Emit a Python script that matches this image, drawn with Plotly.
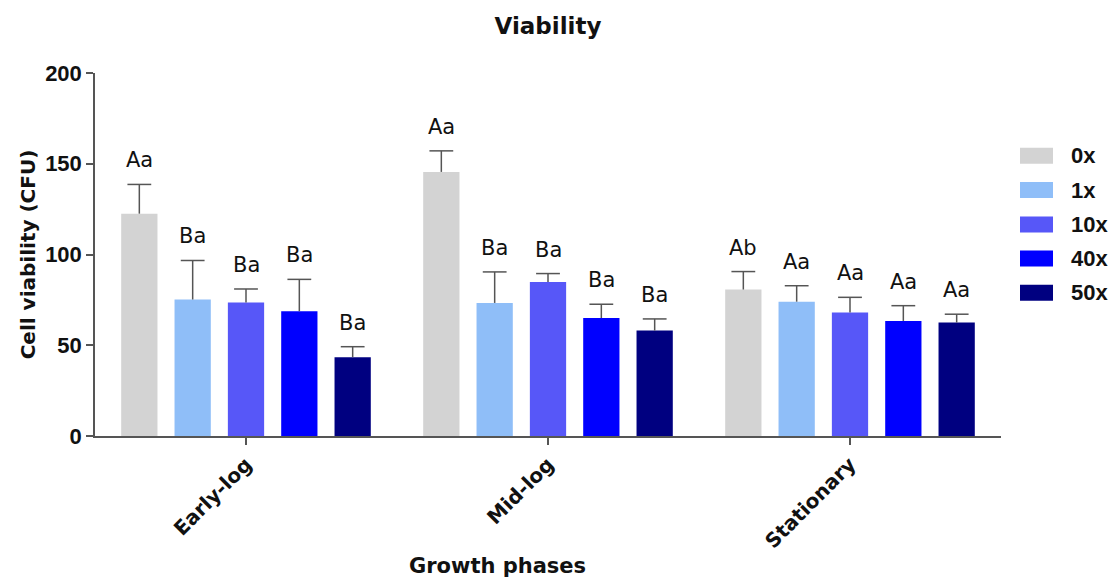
import plotly.graph_objects as go

phases = ["Early-log", "Mid-log", "Stationary"]
series_names = ["0x", "1x", "10x", "40x", "50x"]
colors = ["#D3D3D3", "#8FBEF8", "#5757F8", "#0000FF", "#000080"]

v_0x = [122.5, 145.5, 80.7]
v_1x = [75.2, 73.3, 74.0]
v_10x = [73.5, 84.9, 68.0]
v_40x = [68.7, 65.0, 63.4]
v_50x = [43.4, 58.1, 62.5]

e_0x = [16.1, 11.6, 9.9]
e_1x = [21.5, 17.1, 8.8]
e_10x = [7.5, 4.6, 8.4]
e_40x = [17.6, 7.6, 8.4]
e_50x = [5.8, 6.4, 4.6]

lab_0x = ["Aa", "Aa", "Ab"]
lab_1x = ["Ba", "Ba", "Aa"]
lab_10x = ["Ba", "Ba", "Aa"]
lab_40x = ["Ba", "Ba", "Aa"]
lab_50x = ["Ba", "Ba", "Aa"]

values = [v_0x, v_1x, v_10x, v_40x, v_50x]
errors = [e_0x, e_1x, e_10x, e_40x, e_50x]
labels = [lab_0x, lab_1x, lab_10x, lab_40x, lab_50x]

ARIAL = "Liberation Sans, Arial, sans-serif"
DEJA = "DejaVu Sans, sans-serif"
AXC = "#555555"
ERRC = "#555555"
TXT = "#111111"

xpos = list(range(len(phases)))
bargap = 0.117
bargroupgap = 0.32
n = len(series_names)
slot = (1 - bargap) / n

fig = go.Figure()
for name, col, vals, errs in zip(series_names, colors, values, errors):
    fig.add_trace(go.Bar(
        x=xpos, y=vals, name=name, marker=dict(color=col, line=dict(width=0)),
        error_y=dict(type="data", array=errs, arrayminus=[0] * len(errs), symmetric=False,
                     color=ERRC, thickness=1.5, width=0),
        showlegend=False, hoverinfo="skip",
    ))

annotations = []
for i, (vals, errs, labs) in enumerate(zip(values, errors, labels)):
    off = (i - (n - 1) / 2) * slot
    xs = [j + off for j in xpos]
    tops = [v + e for v, e in zip(vals, errs)]
    # error bar caps
    fig.add_trace(go.Scatter(
        x=xs, y=tops, mode="markers", showlegend=False, hoverinfo="skip",
        marker=dict(symbol="line-ew", size=17, line=dict(color=ERRC, width=1.5)),
    ))
    for x, t, lab in zip(xs, tops, labs):
        annotations.append(dict(x=x, y=t, xref="x", yref="y", text=lab,
                                showarrow=False, yanchor="middle", yshift=24,
                                font=dict(family=DEJA, size=21, color=TXT)))

# custom legend
PW, PH, L, T = 906, 363, 95, 73
leg_y = [155.8, 190, 224.5, 258.5, 292.7]
shapes = []
for k, (name, col) in enumerate(zip(series_names, colors)):
    yc = leg_y[k]
    shapes.append(dict(type="rect", xref="paper", yref="paper",
                       x0=(1020 - L) / PW, x1=(1053 - L) / PW,
                       y0=(T + PH - yc - 8) / PH, y1=(T + PH - yc + 8) / PH,
                       fillcolor=col, line=dict(width=0)))
    annotations.append(dict(x=(1069 - L) / PW, y=(T + PH - yc) / PH, xref="paper", yref="paper",
                            text="<b>%s</b>" % name, showarrow=False, xanchor="left", yanchor="middle",
                            font=dict(family=ARIAL, size=22, color=TXT)))

annotations.append(dict(x=(497 - L) / PW, y=(T + PH - 566) / PH, xref="paper", yref="paper",
                        text="<b>Growth phases</b>", showarrow=False, xanchor="center", yanchor="middle",
                        font=dict(family=DEJA, size=21, color=TXT)))

fig.update_layout(
    width=1113, height=579,
    margin=dict(l=L, r=1113 - L - PW, t=T, b=579 - T - PH),
    paper_bgcolor="white", plot_bgcolor="white",
    barmode="group", bargap=bargap, bargroupgap=bargroupgap,
    title=dict(text="<b>Viability</b>", x=548 / 1113, xanchor="center", y=1 - 26 / 579, yanchor="middle",
               font=dict(family=DEJA, size=23, color=TXT)),
    xaxis=dict(range=[-0.5, 2.5], showline=True, linecolor=AXC, linewidth=1.5,
               ticks="outside", ticklen=7, tickcolor=AXC, tickwidth=1.5, tickangle=-45,
               tickfont=dict(family=DEJA, size=20, color=TXT),
               tickvals=xpos, ticktext=["<b>%s</b>" % p for p in phases],
               showgrid=False, zeroline=False),
    yaxis=dict(range=[0, 200], tickvals=[0, 50, 100, 150, 200],
               ticktext=["<b>%d</b>" % t for t in [0, 50, 100, 150, 200]],
               showline=True, linecolor=AXC, linewidth=1.5,
               ticks="outside", ticklen=7, tickcolor=AXC, tickwidth=1.5,
               tickfont=dict(family=ARIAL, size=22, color=TXT),
               showgrid=False, zeroline=False,
               title=dict(text="<b>Cell viability (CFU)</b>", standoff=4,
                          font=dict(family=DEJA, size=20, color=TXT))),
    annotations=annotations, shapes=shapes,
)

fig.write_html("out.html", config={"displayModeBar": False},
               post_script="document.body.style.margin='0';document.body.style.overflow='hidden';")
